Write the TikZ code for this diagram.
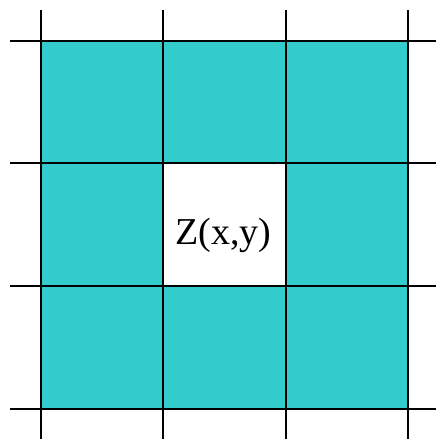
\documentclass[tikz,border=0pt]{standalone}
\usepackage{fontspec}
\setmainfont{Liberation Serif}
\usepackage{xcolor}
\definecolor{cellteal}{RGB}{51,204,204}

\begin{document}
\begin{tikzpicture}[x=1pt, y=1pt, line width=1.6pt]
    \useasboundingbox (0,0) rectangle (436,439);
    % Cells
    \fill[cellteal] (41,30) rectangle (408,398);
    \fill[white] (163,153) rectangle (286,276);
    % Grid lines
    \foreach \gx in {41,163,286,408} {
        \draw (\gx,0) -- (\gx,429);
    }
    \foreach \gy in {30,153,276,398} {
        \draw (10,\gy) -- (436,\gy);
    }
    % Centre label
    \node[anchor=base, inner sep=0pt, font=\fontsize{38}{40}\selectfont] (zxy) at (223.5,194) {Z(x,y)};
\end{tikzpicture}
\end{document}
